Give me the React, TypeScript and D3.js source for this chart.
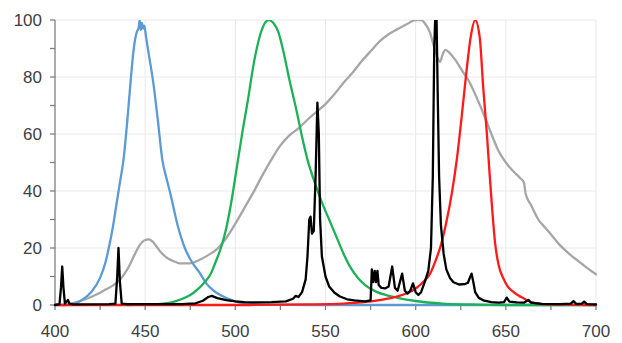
import React from "react";
import * as d3 from "d3";

const W = 622;
const H = 343;

const xTicksMajor = [400, 450, 500, 550, 600, 650, 700];
const xTicksMinor = [425, 475, 525, 575, 625, 675];
const yTicksMajor = [0, 20, 40, 60, 80, 100];
const yTicksMinor = [10, 30, 50, 70, 90];

// [wavelength nm, relative intensity %]
const blueSeries: [number, number][] = [
  [400, 0], [405, 0], [410, 0.3], [415, 1.8], [420, 4.5], [425, 9.5], [428, 15], [430, 20.5], [432, 27],
  [434, 35], [436, 43], [438, 51], [440, 64], [442, 79], [443.5, 89], [444.5, 93.5], [445.5, 96],
  [446.3, 97], [447, 100], [447.6, 96.5], [448.2, 99], [448.8, 97], [449.5, 98], [450.5, 94],
  [452, 88], [454.5, 78], [457, 65], [459.5, 51], [462, 44], [464, 39], [468, 28], [472, 20],
  [476, 15], [480, 11.5], [484, 7.5], [488, 5], [492, 3.4], [496, 2.2], [500, 1.3], [505, 0.6],
  [510, 0.3], [520, 0.1], [540, 0], [600, 0], [650, 0], [700, 0],
];

const greenSeries: [number, number][] = [
  [440, 0], [455, 0.2], [460, 0.5], [465, 1], [470, 2], [475, 3.5], [480, 6], [483, 8], [486, 10.5],
  [489, 15], [492, 20], [495, 27], [498, 37], [501, 49], [504, 61], [507, 72], [510, 84],
  [513, 93], [516, 98.5], [518.5, 100], [521, 99], [524, 95.5], [527, 88], [530, 79], [534, 68],
  [537, 59], [540, 51], [544, 43], [548, 36], [552, 30], [556, 24], [560, 18], [564, 13],
  [568, 9.5], [572, 7], [578, 4.7], [584, 3.4], [590, 2.5], [600, 1.4], [615, 0.5], [630, 0.2],
  [650, 0], [700, 0],
];

const redSeries: [number, number][] = [
  [400, 0], [500, 0], [540, 0.2], [560, 0.5], [570, 0.9], [580, 1.7], [590, 3], [595, 4.1],
  [600, 5.8], [604, 8], [608, 11], [611, 15.5], [614, 21], [617, 29], [620, 39], [623, 52],
  [625.5, 66], [628, 81], [630.5, 94], [633, 100], [635.5, 94], [637.5, 76], [639.5, 60],
  [641, 46], [642.5, 33], [644, 22], [646, 14], [648.5, 9.5], [651, 6.5], [654, 4.7], [657, 3.3],
  [660, 2.3], [664, 1], [670, 0.3], [680, 0.1], [700, 0],
];

const greySeries: [number, number][] = [
  [405, 0], [408, 0.3], [412, 1], [418, 2.3], [423, 3.7], [428, 5.4], [432, 6.8], [435, 8.2],
  [438, 10.5], [441, 13.5], [444, 17.5], [447, 21], [450, 22.8], [452, 23], [454, 22.3],
  [456, 20.8], [459, 18.3], [462, 16.6], [465, 15.6], [470, 14.6], [475, 14.6], [480, 15.8],
  [485, 17.5], [490, 19.7], [495, 23.5], [500, 28.5], [505, 34], [510, 39.5], [515, 45.5],
  [520, 51], [525, 56], [530, 59.5], [535, 62], [540, 65], [545, 67.8], [550, 70.5], [555, 74],
  [560, 78], [565, 81.5], [570, 85.5], [575, 89], [580, 92.5], [585, 95], [590, 96.8],
  [595, 98.5], [600, 100], [603, 100], [606, 98], [608, 95.5], [610, 91], [612, 87],
  [613.5, 85.3], [615, 88], [616.5, 89.5], [619, 88.3], [622, 86], [626, 82], [630, 78],
  [634, 72.5], [638, 66.5], [642, 60], [646, 54], [650, 50], [654, 47], [658, 44.5], [660, 43],
  [661, 39], [664, 35], [668, 30], [672, 27], [676, 24], [680, 21], [685, 18], [690, 15.5],
  [695, 13], [700, 10.8],
];

const blackSeries: [number, number][] = [
  [400, 0], [402.5, 0.3], [403.3, 6], [404, 13.5], [404.7, 6], [405.5, 0.5], [406.5, 1.2],
  [407.2, 1.8], [408, 0.5], [410, 0.2], [430, 0.3], [433.5, 0.5], [434.5, 10], [435.2, 20],
  [436, 8], [437, 0.5], [440, 0.3], [470, 0.3], [478, 0.6], [482, 1.5], [485, 2.8], [487, 3.2],
  [490, 2.4], [495, 1.7], [500, 1.3], [505, 1], [510, 0.9], [520, 1], [528, 1.3], [532, 2.2],
  [533.5, 3.2], [535, 2.8], [537, 4.5], [539, 9], [540, 17], [541, 30], [541.7, 31], [542.5, 25],
  [543.5, 26], [544.5, 45], [545.5, 71], [546.3, 60], [547, 30], [548, 17], [550, 10],
  [552, 6.5], [555, 4.3], [558, 3], [562, 2], [566, 1.6], [572, 1.3], [575, 1.6], [575.7, 12.5],
  [576.5, 8], [577.3, 12], [578, 8], [578.8, 12], [579.5, 7], [581, 6], [583, 5.8], [585, 6.5],
  [587, 13.5], [588.5, 6], [590, 5], [592.5, 11], [594, 5], [595.5, 4], [597, 5], [598.5, 7.6],
  [600, 4.5], [601.5, 3.5], [603, 4.5], [605, 8], [607, 12], [608.5, 20], [609.5, 45],
  [610.3, 90], [610.8, 100], [611.6, 100], [612.2, 75], [613, 45], [614, 28], [615.5, 18],
  [617, 12.5], [619, 9.5], [621, 8], [624, 7.2], [627, 7.3], [629, 7.8], [630, 9.5], [631, 11],
  [632, 8], [633, 4.5], [635, 2.5], [638, 1.5], [642, 1], [646, 0.8], [649, 1], [650.5, 2.6],
  [652, 1.2], [656, 0.9], [660, 0.8], [662.5, 1.8], [664, 0.8], [670, 0.4], [680, 0.3],
  [686, 0.5], [687.5, 1.4], [689, 0.4], [692, 0.4], [693.4, 1.2], [695, 0.3], [700, 0.2],
];

const margin = { left: 55, right: 26, top: 20, bottom: 38 };

export default function App() {
  const x = d3.scaleLinear().domain([400, 700]).range([margin.left, W - margin.right]);
  const y = d3.scaleLinear().domain([0, 100]).range([H - margin.bottom, margin.top]);

  const smooth = d3
    .line<[number, number]>()
    .x((d) => x(d[0]))
    .y((d) => y(d[1]))
    .curve(d3.curveMonotoneX);
  const sharp = d3
    .line<[number, number]>()
    .x((d) => x(d[0]))
    .y((d) => y(d[1]));

  const axisColor = "#7f7f7f";
  const gridColor = "#e9e9e9";
  const labelColor = "#404040";
  const font = "'Liberation Sans', Arial, sans-serif";
  const x0 = x(400);
  const y0 = y(0);

  return (
    <svg
      width={W}
      height={H}
      style={{ position: "absolute", left: 0, top: 0, background: "#fff" }}
    >
      <defs>
        <clipPath id="plot">
          <rect x={x0 - 2} y={y(100)} width={x(700) - x0 + 4} height={y0 - y(100) + 3} />
        </clipPath>
      </defs>
      {yTicksMajor.filter((t) => t > 0).map((t) => (
        <line key={"gy" + t} x1={x0} x2={x(700)} y1={y(t)} y2={y(t)} stroke={gridColor} strokeWidth={1} />
      ))}
      {xTicksMajor.filter((t) => t > 400).map((t) => (
        <line key={"gx" + t} x1={x(t)} x2={x(t)} y1={y(100)} y2={y0} stroke={gridColor} strokeWidth={1} />
      ))}
      <line x1={x0} x2={x0} y1={y(100)} y2={y0} stroke={axisColor} strokeWidth={1.3} />
      <line x1={x0} x2={x(700)} y1={y0} y2={y0} stroke={axisColor} strokeWidth={1.3} />
      {[...yTicksMajor, ...yTicksMinor].map((t) => (
        <line key={"ty" + t} x1={x0 - 5} x2={x0} y1={y(t)} y2={y(t)} stroke={axisColor} strokeWidth={1.3} />
      ))}
      {[...xTicksMajor, ...xTicksMinor].map((t) => (
        <line key={"tx" + t} x1={x(t)} x2={x(t)} y1={y0} y2={y0 + 5} stroke={axisColor} strokeWidth={1.3} />
      ))}
      {yTicksMajor.map((t) => (
        <text
          key={"ly" + t}
          x={x0 - 13}
          y={y(t) + 6}
          textAnchor="end"
          fontFamily={font}
          fontSize={17}
          fill={labelColor}
        >
          {t}
        </text>
      ))}
      {xTicksMajor.map((t) => (
        <text
          key={"lx" + t}
          x={x(t)}
          y={y0 + 32}
          textAnchor="middle"
          fontFamily={font}
          fontSize={17}
          fill={labelColor}
        >
          {t}
        </text>
      ))}
      <g clipPath="url(#plot)" fill="none" strokeLinejoin="round" strokeLinecap="round">
        <path d={smooth(greySeries) || ""} stroke="#a6a6a6" strokeWidth={2.3} />
        <path d={smooth(blueSeries) || ""} stroke="#5b9bd5" strokeWidth={2.3} />
        <path d={smooth(greenSeries) || ""} stroke="#1db157" strokeWidth={2.3} />
        <path d={smooth(redSeries) || ""} stroke="#ff1a1a" strokeWidth={2.3} />
        <path d={sharp(blackSeries) || ""} stroke="#000000" strokeWidth={2.3} />
      </g>
    </svg>
  );
}
